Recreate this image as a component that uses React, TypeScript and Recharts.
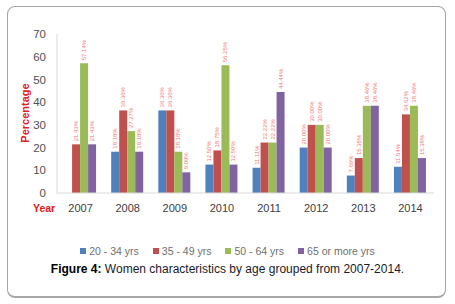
import { BarChart, Bar, XAxis, YAxis, LabelList } from 'recharts';

const years = ['2007', '2008', '2009', '2010', '2011', '2012', '2013', '2014'];
const age20to34 = [0, 18.18, 36.36, 12.5, 11.11, 20, 7.69, 11.54];
const age35to49 = [21.43, 36.36, 36.36, 18.75, 22.22, 30, 15.38, 34.62];
const age50to64 = [57.14, 27.27, 18.18, 56.25, 22.22, 30, 38.46, 38.46];
const age65plus = [21.43, 18.18, 9.09, 12.5, 44.44, 20, 38.46, 15.38];
const yTicks = [0, 10, 20, 30, 40, 50, 60, 70];

const SERIES = [
    { key: 'a', name: '20 - 34 yrs', color: '#4F81BD', values: age20to34 },
    { key: 'b', name: '35 - 49 yrs', color: '#C0504D', values: age35to49 },
    { key: 'c', name: '50 - 64 yrs', color: '#9BBB59', values: age50to64 },
    { key: 'd', name: '65 or more yrs', color: '#8064A2', values: age65plus },
];

const data = years.map((year, i) => {
    const row: any = { year };
    SERIES.forEach(s => { row[s.key] = s.values[i]; });
    return row;
});

// rotated tiny percentage labels above each bar
const BarLabel = (props: any) => {
    const { x, y, width, value } = props;
    const cx = x + width / 2 + 2;
    const text = value === 0 ? '0' : `${value.toFixed(2)}%`;
    return (
        <text
            x={cx}
            y={y - 3}
            transform={`rotate(-90, ${cx}, ${y - 3})`}
            fontSize={6}
            fill="#f07a7a"
            fontFamily="Arial, 'Liberation Sans', sans-serif"
            textAnchor="start"
        >
            {text}
        </text>
    );
};

export default function App() {
    return (
        <div style={{ position: 'absolute', left: 0, top: 0, width: 455, height: 304, background: '#fff', fontFamily: "Arial, 'Liberation Sans', sans-serif" }}>
            {/* frame */}
            <div style={{ position: 'absolute', left: 7, top: 6, width: 439, height: 292, border: '1px solid #a6a6a6', borderBottomWidth: 2, borderRadius: 8, boxSizing: 'border-box' }} />

            <div style={{ position: 'absolute', left: 0, top: 0 }}>
                <BarChart
                    width={455}
                    height={216}
                    data={data}
                    margin={{ top: 34, right: 21, bottom: 0, left: 0 }}
                    barCategoryGap="15%"
                    barGap={0}
                >
                    <XAxis
                        dataKey="year"
                        height={23}
                        axisLine={{ stroke: '#d9d9d9' }}
                        tickLine={false}
                        tickSize={0}
                        tickMargin={11}
                        tick={{ fontSize: 11, fill: '#404040' }}
                    />
                    <YAxis
                        width={57}
                        domain={[0, 70]}
                        ticks={yTicks}
                        axisLine={{ stroke: '#d9d9d9' }}
                        tickLine={false}
                        tickSize={0}
                        tickMargin={11}
                        tick={{ fontSize: 11.5, fill: '#505050' }}
                    />
                    {SERIES.map(s => (
                        <Bar key={s.key} dataKey={s.key} name={s.name} fill={s.color} isAnimationActive={false}>
                            <LabelList dataKey={s.key} content={<BarLabel />} />
                        </Bar>
                    ))}
                </BarChart>
            </div>

            {/* axis titles */}
            <div style={{ position: 'absolute', left: 33, top: 202, fontSize: 10.5, fontWeight: 'bold', color: '#e02020' }}>Year</div>
            <div style={{ position: 'absolute', left: 25, top: 113, transform: 'translate(-50%, -50%) rotate(-90deg)', fontSize: 11, fontWeight: 'bold', color: '#e02020', whiteSpace: 'nowrap' }}>
                Percentage
            </div>

            {/* legend */}
            <div style={{ position: 'absolute', left: 0, top: 245, width: 455, display: 'flex', justifyContent: 'center', gap: 14, fontSize: 10.5, color: '#6f6f6f' }}>
                {SERIES.map(s => (
                    <div key={s.key} style={{ display: 'flex', alignItems: 'center', gap: 3 }}>
                        <span style={{ display: 'inline-block', width: 6, height: 6, background: s.color }} />
                        <span>{s.name}</span>
                    </div>
                ))}
            </div>

            {/* caption */}
            <div style={{ position: 'absolute', left: 0, top: 262, width: 455, textAlign: 'center', fontSize: 12, color: '#1a1a2a', whiteSpace: 'nowrap' }}>
                <b style={{ color: '#000' }}>Figure 4:</b> Women characteristics by age grouped from 2007-2014.
            </div>
        </div>
    );
}
